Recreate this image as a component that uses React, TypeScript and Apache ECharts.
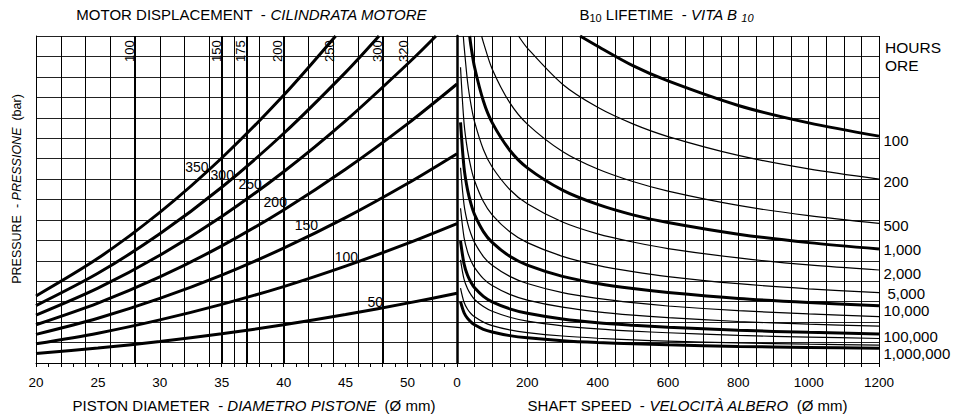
import React, { useEffect, useRef } from 'react';
import * as echarts from 'echarts';

const FONT = '"Liberation Sans", Arial, Helvetica, sans-serif';

// ---------- LEFT PANEL: piston diameter (mm) vs load, one curve per pressure (bar)
const pressureLabels = ['50', '100', '150', '200', '250', '300', '350'];
const p50 = [[20, 0.47], [25, 0.73], [30, 1.05], [35, 1.43], [40, 1.87], [45, 2.37], [50, 2.93], [54, 3.41]];
const p100 = [[20, 0.94], [25, 1.46], [30, 2.11], [35, 2.87], [40, 3.74], [45, 4.74], [50, 5.85], [54, 6.82]];
const p150 = [[20, 1.40], [25, 2.19], [30, 3.16], [35, 4.30], [40, 5.62], [45, 7.11], [50, 8.78], [54, 10.24]];
const p200 = [[20, 1.87], [25, 2.93], [30, 4.21], [35, 5.73], [40, 7.49], [45, 9.48], [50, 11.70], [54, 13.65]];
const p250 = [[20, 2.34], [25, 3.66], [30, 5.27], [35, 7.17], [40, 9.36], [45, 11.85], [50, 14.63], [52.3, 16]];
const p300 = [[20, 2.81], [25, 4.39], [30, 6.32], [35, 8.60], [40, 11.23], [45, 14.22], [47.7, 16]];
const p350 = [[20, 3.28], [25, 5.12], [30, 7.37], [35, 10.03], [40, 13.10], [44.2, 16]];
const pressureCurves = [p50, p100, p150, p200, p250, p300, p350];
// label anchors (diameter, load) for curve labels
const pressureLabelAnchors = [[47.4, 2.98], [45.06, 5.19], [41.83, 6.75], [39.32, 7.88], [37.3, 8.76], [35.04, 9.2], [33.0, 9.59]];

// motor displacement markers
const displacementLabels = ['100', '150', '175', '200', '250', '300', '320'];
const displacementDiameters = [28, 35, 37, 40, 44, 48, 50];
const displacementLabelAnchors = [[27.52, 15.26], [34.55, 15.26], [36.49, 15.26], [39.48, 15.26], [43.69, 15.26], [47.57, 15.26], [49.71, 15.26]];
const heavyDiameterLines = [28, 35, 37, 40, 48];

// ---------- RIGHT PANEL: shaft speed vs load, one curve per B10 lifetime (hours)
const speeds = [10, 20, 30, 40, 50, 75, 100, 150, 200, 300, 400, 500, 600, 800, 1000, 1200];
const h100 = [[350, 16], [400, 15.5], [500, 14.55], [600, 13.8], [800, 12.6], [1000, 11.75], [1200, 11.1]];
const h200 = [[175, 16], [200, 15.41], [300, 13.64], [400, 12.51], [500, 11.7], [600, 11.08], [800, 10.16], [1000, 9.5], [1200, 9.0]];
const h500 = [[70, 16], [75, 15.69], [100, 14.39], [150, 12.74], [200, 11.69], [300, 10.35], [400, 9.49], [500, 8.88], [600, 8.41], [800, 7.71], [1000, 7.21], [1200, 6.83]];
const h1000 = [[36, 16], [40, 15.48], [50, 14.47], [75, 12.82], [100, 11.76], [150, 10.41], [200, 9.55], [300, 8.46], [400, 7.76], [500, 7.25], [600, 6.87], [800, 6.3], [1000, 5.89], [1200, 5.58]];
const h2000 = [[18, 16], [20, 15.54], [30, 13.76], [40, 12.62], [50, 11.8], [75, 10.45], [100, 9.59], [150, 8.49], [200, 7.79], [300, 6.9], [400, 6.32], [500, 5.92], [600, 5.6], [800, 5.14], [1000, 4.8], [1200, 4.55]];
const h5000 = [14.47, 11.75, 10.4, 9.54, 8.92, 7.9, 7.25, 6.42, 5.89, 5.22, 4.78, 4.47, 4.23, 3.88, 3.63, 3.44];
const h10000 = [11.77, 9.56, 8.47, 7.77, 7.26, 6.43, 5.9, 5.22, 4.79, 4.24, 3.89, 3.64, 3.45, 3.16, 2.96, 2.8];
const h20000 = [9.55, 7.75, 6.86, 6.3, 5.89, 5.21, 4.78, 4.24, 3.89, 3.44, 3.16, 2.95, 2.79, 2.56, 2.4, 2.27];
const h50000 = [7.57, 6.15, 5.44, 4.99, 4.67, 4.13, 3.79, 3.36, 3.08, 2.73, 2.5, 2.34, 2.22, 2.03, 1.9, 1.8];
const h100000 = [5.97, 4.85, 4.29, 3.94, 3.68, 3.26, 2.99, 2.65, 2.43, 2.15, 1.97, 1.85, 1.75, 1.6, 1.5, 1.42];
const h200000 = [5.05, 4.1, 3.63, 3.33, 3.11, 2.76, 2.53, 2.24, 2.05, 1.82, 1.67, 1.56, 1.48, 1.35, 1.27, 1.2];
const h500000 = [3.66, 2.97, 2.63, 2.41, 2.26, 2.0, 1.83, 1.62, 1.49, 1.32, 1.21, 1.13, 1.07, 0.98, 0.92, 0.87];
const h1000000 = [3.0, 2.46, 2.18, 2.0, 1.87, 1.65, 1.52, 1.34, 1.23, 1.09, 1.0, 0.94, 0.89, 0.81, 0.76, 0.72];

const lifeCurvesPairs = [h100, h200, h500, h1000, h2000];
const lifeCurvesPairsHeavy = [true, false, false, true, false];
const lifeCurvesOnSpeeds = [h5000, h10000, h20000, h50000, h100000, h200000, h500000, h1000000];
const lifeCurvesOnSpeedsHeavy = [false, true, false, false, true, false, false, true];

const lifeLabels = ['100', '200', '500', '1,000', '2,000', '5,000', '10,000', '100,000', '1,000,000'];
const lifeLabelLoads = [11.1, 9.0, 6.83, 5.58, 4.55, 3.44, 2.8, 1.42, 0.72];
// pixel nudges of the right-hand labels (style only)
const lifeLabelShiftX = [0, 0, 0, 0, 0, 4, 0, 0, 0];
const lifeLabelShiftY = [4, 2, 2, 1, 3, 1, 4.5, 2.7, 5];

const xTickLabelsLeft = [20, 25, 30, 35, 40, 45, 50];
const xTickLabelsRight = [0, 200, 400, 600, 800, 1000, 1200];

export default function App() {
  const ref = useRef<HTMLDivElement>(null);
  useEffect(() => {
    const chart = echarts.init(ref.current!, undefined, { renderer: 'svg' });
    const black = '#000';
    const txt = { fontFamily: FONT, color: black, textBorderWidth: 0, textBorderColor: 'transparent', textShadowBlur: 0, opacity: 1 };
    const curve = (data: number[][], heavy: boolean, gi: number) => ({
      type: 'line',
      xAxisIndex: gi,
      yAxisIndex: gi,
      data,
      smooth: 0.3,
      showSymbol: false,
      symbol: 'none',
      silent: true,
      lineStyle: { color: black, width: heavy ? 3 : 1.2 },
      z: 5,
    });
    const series: any[] = [];
    pressureCurves.forEach((c, i) => {
      const s: any = curve(c, true, 0);
      if (i === 0) {
        s.markLine = {
          symbol: 'none',
          silent: true,
          label: { show: false },
          lineStyle: { color: black, width: 2, type: 'solid' },
          data: heavyDiameterLines.map((x) => ({ xAxis: x })),
        };
      }
      series.push(s);
    });
    lifeCurvesPairs.forEach((c, i) => series.push(curve(c, lifeCurvesPairsHeavy[i], 1)));
    lifeCurvesOnSpeeds.forEach((vals, i) =>
      series.push(curve(speeds.map((s, k) => [s, vals[k]]), lifeCurvesOnSpeedsHeavy[i], 1))
    );
    const labelSeries = (gi: number, pts: number[][], texts: string[], label: any, extra?: (i: number) => any) => ({
      type: 'scatter',
      xAxisIndex: gi,
      yAxisIndex: gi,
      symbolSize: 1,
      silent: true,
      clip: false,
      itemStyle: { color: 'rgba(255,255,255,0)' },
      data: pts.map((p, i) => ({ value: p, label: { formatter: texts[i], ...(extra ? extra(i) : {}) } })),
      label: { show: true, ...txt, ...label },
      z: 10,
    });
    series.push(labelSeries(0, pressureLabelAnchors, pressureLabels, { position: 'inside', fontSize: 14 }));
    series.push(labelSeries(0, displacementLabelAnchors, displacementLabels, { position: 'inside', fontSize: 13, rotate: 90 }));
    series.push(
      labelSeries(
        1,
        lifeLabels.map((_, i) => [1200, lifeLabelLoads[i]]),
        lifeLabels,
        { position: 'right', distance: 4, fontSize: 15 },
        (i) => ({ offset: [lifeLabelShiftX[i], lifeLabelShiftY[i]] })
      )
    );

    const vSplit = { show: true, lineStyle: { color: black, width: 1 } };
    const hSplit = { show: true, lineStyle: { color: '#222', width: 1, type: 'solid' } };
    const rich = (size: number) => ({
      n: { fontFamily: FONT, fontSize: size, fill: black },
      i: { fontFamily: FONT, fontSize: size, fill: black, fontStyle: 'italic' },
    });
    const option: any = {
      animation: false,
      backgroundColor: '#fff',
      grid: [
        { left: 36, top: 36, width: 421, height: 327 },
        { left: 457, top: 36, width: 422, height: 327 },
      ],
      xAxis: [
        {
          gridIndex: 0,
          type: 'value',
          min: 20,
          max: 54,
          interval: 1,
          axisLine: { show: true, onZero: false, lineStyle: { color: black, width: 1 } },
          axisTick: { show: true, length: 4, lineStyle: { color: black } },
          axisLabel: {
            ...txt,
            fontSize: 13.5,
            margin: 12,
            formatter: (v: number) => (xTickLabelsLeft.includes(v) ? String(v) : ''),
          },
          splitLine: { show: false },
        },
        {
          gridIndex: 1,
          type: 'value',
          min: 0,
          max: 1200,
          interval: 50,
          axisLine: { show: true, onZero: false, lineStyle: { color: black, width: 1 } },
          axisTick: { show: true, length: 4, lineStyle: { color: black } },
          axisLabel: {
            ...txt,
            fontSize: 13.5,
            margin: 12,
            formatter: (v: number) => (xTickLabelsRight.includes(v) ? String(v) : ''),
          },
          splitLine: vSplit,
        },
        {
          gridIndex: 0,
          type: 'value',
          position: 'bottom',
          min: 20,
          max: 54,
          interval: 2,
          axisLine: { show: false },
          axisTick: { show: false },
          axisLabel: { show: false },
          splitLine: vSplit,
        },
      ],
      yAxis: [
        {
          gridIndex: 0,
          type: 'value',
          min: 0,
          max: 16,
          interval: 1,
          axisLine: { show: true, lineStyle: { color: black, width: 1 } },
          axisTick: { show: false },
          axisLabel: { show: false },
          splitLine: hSplit,
        },
        {
          gridIndex: 1,
          type: 'value',
          min: 0,
          max: 16,
          interval: 1,
          axisLine: { show: true, lineStyle: { color: black, width: 2.5 } },
          axisTick: { show: false },
          axisLabel: { show: false },
          splitLine: hSplit,
        },
      ],
      graphic: [
        {
          type: 'text',
          x: 251.5,
          y: 14,
          style: {
            text: '{n|MOTOR DISPLACEMENT  - }{i|CILINDRATA MOTORE}',
            align: 'center',
            verticalAlign: 'middle',
            rich: rich(15),
          },
        },
        {
          type: 'text',
          x: 666.5,
          y: 14,
          style: {
            text: '{n|B}{s|10}{n| LIFETIME  - }{i|VITA B }{is|10}',
            align: 'center',
            verticalAlign: 'middle',
            rich: {
              n: { fontFamily: FONT, fontSize: 15, fill: black, lineHeight: 18 },
              s: { fontFamily: FONT, fontSize: 11, fill: black, lineHeight: 11, verticalAlign: 'bottom' },
              i: { fontFamily: FONT, fontSize: 15, fill: black, fontStyle: 'italic', lineHeight: 18 },
              is: { fontFamily: FONT, fontSize: 11, fill: black, fontStyle: 'italic', lineHeight: 11, verticalAlign: 'bottom' },
            },
          },
        },
        {
          type: 'text',
          x: 885,
          y: 47,
          style: { text: 'HOURS', fontFamily: FONT, fontSize: 15.5, fill: black, align: 'left', verticalAlign: 'middle' },
        },
        {
          type: 'text',
          x: 885,
          y: 65,
          style: { text: 'ORE', fontFamily: FONT, fontSize: 15.5, fill: black, align: 'left', verticalAlign: 'middle' },
        },
        {
          type: 'text',
          x: 254,
          y: 405,
          style: {
            text: '{n|PISTON DIAMETER  - }{i|DIAMETRO PISTONE}{n|  (Ø mm)}',
            align: 'center',
            verticalAlign: 'middle',
            rich: rich(15),
          },
        },
        {
          type: 'text',
          x: 687.5,
          y: 405,
          style: {
            text: '{n|SHAFT SPEED  - }{i|VELOCITÀ ALBERO}{n|  (Ø mm)}',
            align: 'center',
            verticalAlign: 'middle',
            rich: rich(15),
          },
        },
        {
          type: 'text',
          x: 16.5,
          y: 189,
          rotation: Math.PI / 2,
          style: {
            text: '{n|PRESSURE  - }{i|PRESSIONE}{n|  (bar)}',
            align: 'center',
            verticalAlign: 'middle',
            rich: rich(12.5),
          },
        },
      ],
      series,
    };
    chart.setOption(option);
    return () => chart.dispose();
  }, []);
  return (
    <div
      ref={ref}
      style={{ position: 'absolute', left: 0, top: 0, width: 965, height: 416, background: '#fff' }}
    />
  );
}
